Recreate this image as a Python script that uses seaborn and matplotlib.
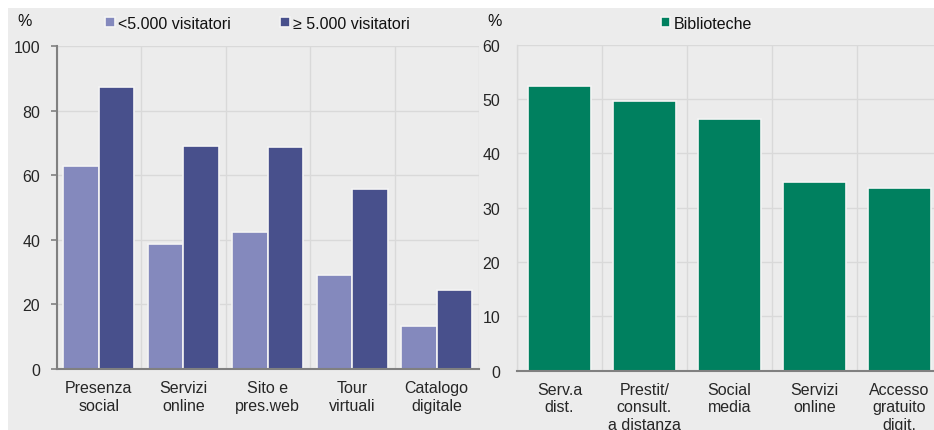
import pandas as pd
import matplotlib.pyplot as plt
import seaborn as sns
from matplotlib.patches import Rectangle
from matplotlib.ticker import FixedLocator

# Dati
categorie_musei = ["Presenza\nsocial", "Servizi\nonline", "Sito e\npres.web", "Tour\nvirtuali", "Catalogo\ndigitale"]
serie_musei = ["<5.000 visitatori", "≥ 5.000 visitatori"]
musei_piccoli = [62.8, 38.7, 42.4, 29.1, 13.4]
musei_grandi = [87.4, 69.1, 68.6, 55.8, 24.4]

categorie_bib = ["Serv.a\ndist.", "Prestit/\nconsult.\na distanza", "Social\nmedia", "Servizi\nonline", "Accesso\ngratuito\ndigit."]
biblioteche = [52.4, 49.7, 46.3, 34.7, 33.7]

sfondo = "#ECECEC"
griglia = "#D9D9D9"
asse = "#808080"
colori_musei = ["#8489BD", "#48508C"]
verde = "#00805F"
fs = 11.5

sns.set_style("white")
plt.rcParams['font.family'] = ['Liberation Sans', 'DejaVu Sans']
plt.rcParams['font.size'] = fs
plt.rcParams['text.color'] = '#111111'

df_musei = pd.DataFrame({
    'categoria': categorie_musei * 2,
    'serie': [serie_musei[0]] * 5 + [serie_musei[1]] * 5,
    'valore': musei_piccoli + musei_grandi,
})
df_bib = pd.DataFrame({'categoria': categorie_bib, 'serie': 'Biblioteche', 'valore': biblioteche})

fig = plt.figure(figsize=(9.34, 4.31), dpi=100, facecolor='white')
fig.patches.append(Rectangle((8 / 934, 0), 1, 1 - 9 / 431, transform=fig.transFigure,
                             facecolor=sfondo, edgecolor='none', zorder=-10))

ax1 = fig.add_axes([0.0607, 0.1415, 0.4521, 0.7494])
ax2 = fig.add_axes([0.5535, 0.1376, 0.455, 0.7564])

# Grafico musei
sns.barplot(data=df_musei, x='categoria', y='valore', hue='serie', hue_order=serie_musei,
            palette=colori_musei, width=0.84, edgecolor='#F4F4F4', linewidth=1.2,
            saturation=1, ax=ax1)
ax1.set_ylim(0, 100)
ax1.set_yticks(range(0, 101, 20))
ax1.legend(loc='center left', bbox_to_anchor=(0.115, 1.071), ncol=2, frameon=False,
           handlelength=0.6, handleheight=0.6, handletextpad=0.2, columnspacing=3.1,
           borderpad=0, borderaxespad=0, fontsize=fs)

# Grafico biblioteche
sns.barplot(data=df_bib, x='categoria', y='valore', hue='serie', palette=[verde],
            width=0.74, edgecolor='#F4F4F4', linewidth=1.2, saturation=1, ax=ax2)
ax2.set_ylim(0, 60)
ax2.set_yticks(range(0, 61, 10))
ax2.legend(loc='center left', bbox_to_anchor=(0.338, 1.065), frameon=False,
           handlelength=0.6, handleheight=0.6, handletextpad=0.2,
           borderpad=0, borderaxespad=0, fontsize=fs)

for ax in (ax1, ax2):
    ax.set_facecolor(sfondo)
    ax.set_xlim(-0.5, 4.5)
    ax.set_xlabel('')
    ax.set_ylabel('')
    ax.xaxis.set_minor_locator(FixedLocator([-0.5, 0.5, 1.5, 2.5, 3.5, 4.5]))
    ax.grid(axis='y', which='major', color=griglia, linewidth=1)
    ax.grid(axis='x', which='minor', color=griglia, linewidth=1)
    ax.set_axisbelow(True)
    ax.tick_params(axis='x', which='major', length=0, pad=8, labelsize=fs)
    ax.tick_params(axis='x', which='minor', length=4, width=1.2, color=asse, direction='out')
    for s in ('top', 'right'):
        ax.spines[s].set_visible(False)
    ax.spines['bottom'].set_color(asse)
    ax.spines['bottom'].set_linewidth(1.5)
    ax.spines['bottom'].set_zorder(5)

ax1.spines['left'].set_color(asse)
ax1.spines['left'].set_linewidth(1.5)
ax1.tick_params(axis='y', length=4, width=1.2, color=asse, pad=8, labelsize=fs, left=True)
ax2.spines['left'].set_color(griglia)
ax2.spines['left'].set_linewidth(1)
ax2.tick_params(axis='y', length=0, pad=12, labelsize=fs)

fig.text(17 / 934, 1 - 22 / 431, '%', fontsize=fs, va='center', ha='left')
fig.text(487 / 934, 1 - 22 / 431, '%', fontsize=fs, va='center', ha='left')

fig.savefig('out.png', dpi=100, facecolor=fig.get_facecolor())
